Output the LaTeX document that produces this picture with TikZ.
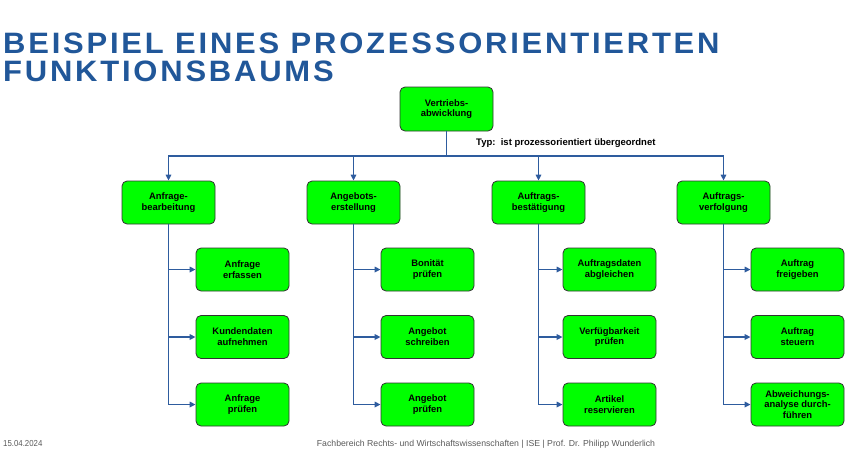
\documentclass[tikz,border=0pt]{standalone}
\usepackage{fontspec}
\setmainfont{Liberation Sans}
\newfontfamily\headfont{Liberation Sans}[LetterSpace=9]
\usetikzlibrary{arrows.meta}
\definecolor{titleblue}{RGB}{33,87,153}
\definecolor{linkblue}{RGB}{46,92,158}
\definecolor{boxgreen}{RGB}{0,255,0}
\definecolor{footgray}{RGB}{90,90,90}
\tikzset{
  fbox/.style={draw=black!80, fill=boxgreen, line width=0.8pt, rounded corners=5pt,
    minimum width=93pt, minimum height=43pt, align=center, inner sep=1pt,
    font=\fontsize{9.4}{10.8}\selectfont\bfseries},
  link/.style={draw=linkblue, line width=1.6pt,
    -{Triangle[length=6pt,width=5.5pt]}},
  ttl/.style={anchor=base west, inner sep=0pt, text=titleblue,
    font=\headfont\fontsize{29.5}{30}\selectfont\bfseries},
  foot/.style={inner sep=0pt, text=footgray, font=\fontsize{8.7}{9}\selectfont}
}
\begin{document}
\begin{tikzpicture}[x=1pt,y=-1pt]
\useasboundingbox (0,0) rectangle (863,459);

% heading
\node[ttl] (t1) at (3,53) {\scalebox{1.05}[1]{BEISPIEL EINES PROZESSORIENTIERTEN}};
\node[ttl] (t2) at (3,81) {\scalebox{1.05}[1]{FUNKTIONSBAUMS}};

% root function
\node[fbox, minimum height=44pt] (root) at (446.5,109) {Vertriebs-\\abwicklung};
\node[anchor=west, inner sep=0pt, font=\fontsize{9.5}{10}\selectfont\bfseries] (typ) at (476,143)
  {Typ:\ \ ist prozessorientiert übergeordnet};

% second level
\node[fbox] (a) at (168.5,202.5) {Anfrage-\\bearbeitung};
\node[fbox] (b) at (353.5,202.5) {Angebots-\\erstellung};
\node[fbox] (c) at (538.5,202.5) {Auftrags-\\bestätigung};
\node[fbox] (d) at (723.5,202.5) {Auftrags-\\verfolgung};

% third level
\node[fbox] (a1) at (242.5,269.5) {Anfrage\\erfassen};
\node[fbox] (a2) at (242.5,337) {Kundendaten\\aufnehmen};
\node[fbox] (a3) at (242.5,404.5) {Anfrage\\prüfen};

\node[fbox] (b1) at (427.5,269.5) {Bonität\\prüfen};
\node[fbox] (b2) at (427.5,337) {Angebot\\schreiben};
\node[fbox] (b3) at (427.5,404.5) {Angebot\\prüfen};

\node[fbox] (c1) at (609.5,269.5) {Auftragsdaten\\abgleichen};
\node[fbox] (c2) at (609.5,337) {Verfügbarkeit\\prüfen};
\node[fbox] (c3) at (609.5,404.5) {Artikel\\reservieren};

\node[fbox] (d1) at (797.5,269.5) {Auftrag\\freigeben};
\node[fbox] (d2) at (797.5,337) {Auftrag\\steuern};
\node[fbox] (d3) at (797.5,404.5) {Abweichungs-\\analyse durch-\\führen};

% connectors
\coordinate (bus) at (446.5,156);
\foreach \n in {a,b,c,d}
  \draw[link] (root.south) -- (bus) -| (\n.north);
\foreach \n in {a,b,c,d}
  \foreach \k in {1,2,3}
    \draw[link] (\n.south) |- (\n\k.west);

% footer
\node[foot, anchor=base west] (date) at (3,446) {\scalebox{0.9}[1]{15.04.2024}};
\node[foot, anchor=base] (inst) at (486,446)
  {Fachbereich Rechts- und Wirtschaftswissenschaften | ISE | Prof. Dr. Philipp Wunderlich};
\end{tikzpicture}
\end{document}
